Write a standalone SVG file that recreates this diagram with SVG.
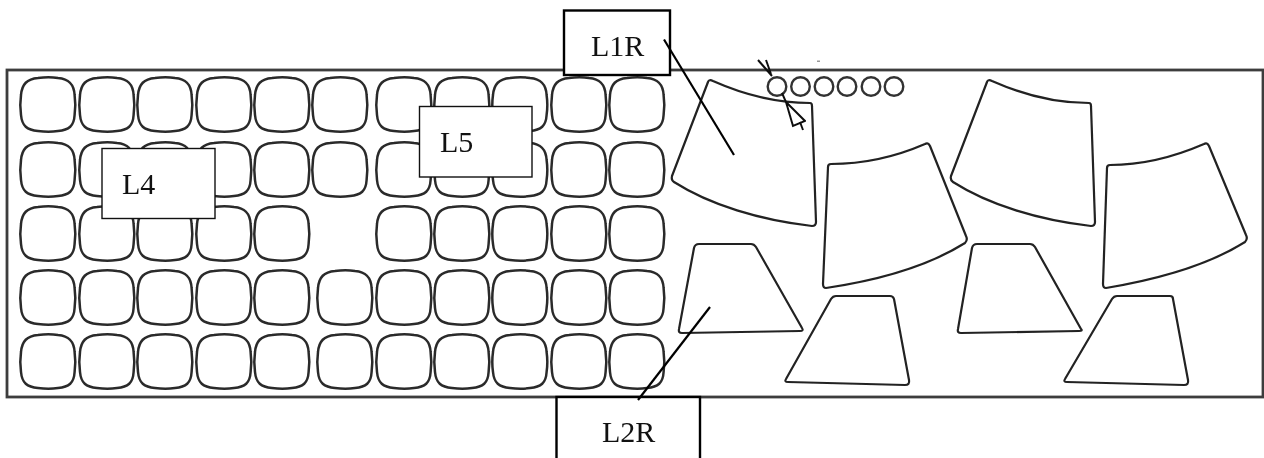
<svg xmlns="http://www.w3.org/2000/svg" width="1264" height="458" viewBox="0 0 1264 458">
<style>
.frame{fill:#fff;stroke:#3c3c3c;stroke-width:2.8}
.sq{fill:#fff;stroke:#2c2c2c;stroke-width:2.5}
.part{fill:#fff;stroke:#222;stroke-width:2.2;stroke-linejoin:round}
.hole{fill:none;stroke:#333;stroke-width:2.4}
.label{fill:#fff;stroke:#111;stroke-width:1.4}
.labelb{fill:#fff;stroke:#000;stroke-width:2.4}
.lead{stroke:#000;stroke-width:2.2;fill:none}
.soft{filter:url(#soft)}
text{font-family:"Liberation Serif","Times New Roman",serif;font-size:30px;fill:#111}
</style>
<defs>
<filter id="soft" x="-2%" y="-2%" width="104%" height="104%"><feGaussianBlur stdDeviation="0.55"/></filter>
<path id="s" class="sq" d="M17,0C24,-1 31,-1 37,0C48,1 53,6 53.600,17C54.600,24 54.600,30 53.600,37C53,48 48,52 37,53C31,54 24,54 17,53C6,52 1,48 0,37C-1,30 -1,24 0,17C1,6 6,1 17,0Z"/>
</defs>
<rect id="frame" class="frame soft" x="7" y="70" width="1256" height="327"/>
<g id="grid" class="soft">
<use href="#s" x="21" y="78"/><use href="#s" x="80" y="78"/><use href="#s" x="138" y="78"/><use href="#s" x="197" y="78"/><use href="#s" x="255" y="78"/><use href="#s" x="313" y="78"/><use href="#s" x="377" y="78"/><use href="#s" x="435" y="78"/><use href="#s" x="493" y="78"/><use href="#s" x="552" y="78"/><use href="#s" x="610" y="78"/>
<use href="#s" x="21" y="143"/><use href="#s" x="80" y="143"/><use href="#s" x="138" y="143"/><use href="#s" x="197" y="143"/><use href="#s" x="255" y="143"/><use href="#s" x="313" y="143"/><use href="#s" x="377" y="143"/><use href="#s" x="435" y="143"/><use href="#s" x="493" y="143"/><use href="#s" x="552" y="143"/><use href="#s" x="610" y="143"/>
<use href="#s" x="21" y="207"/><use href="#s" x="80" y="207"/><use href="#s" x="138" y="207"/><use href="#s" x="197" y="207"/><use href="#s" x="255" y="207"/><use href="#s" x="377" y="207"/><use href="#s" x="435" y="207"/><use href="#s" x="493" y="207"/><use href="#s" x="552" y="207"/><use href="#s" x="610" y="207"/>
<use href="#s" x="21" y="271"/><use href="#s" x="80" y="271"/><use href="#s" x="138" y="271"/><use href="#s" x="197" y="271"/><use href="#s" x="255" y="271"/><use href="#s" x="318" y="271"/><use href="#s" x="377" y="271"/><use href="#s" x="435" y="271"/><use href="#s" x="493" y="271"/><use href="#s" x="552" y="271"/><use href="#s" x="610" y="271"/>
<use href="#s" x="21" y="335"/><use href="#s" x="80" y="335"/><use href="#s" x="138" y="335"/><use href="#s" x="197" y="335"/><use href="#s" x="255" y="335"/><use href="#s" x="318" y="335"/><use href="#s" x="377" y="335"/><use href="#s" x="435" y="335"/><use href="#s" x="493" y="335"/><use href="#s" x="552" y="335"/><use href="#s" x="610" y="335"/>
</g>
<g id="fan-a" class="soft"><path class="part" d="M708,82Q709,79 713,81C740,93 775,103 810,103Q812,103 812,106L816,222Q816,226 812,226C760,220 710,205 674,182Q671,180 672,176Z"/></g>
<g id="fan-b" class="soft"><path class="part" d="M828,167Q828,164 831,164C865,164 895,157 925,144Q928,142 930,146L966,236Q968,240 965,243C930,265 880,280 826,288Q823,288 823,284Z"/></g>
<g id="fan-c" class="soft"><path class="part" d="M987,82Q988,79 992,81C1019,93 1054,103 1089,103Q1091,103 1091,106L1095,222Q1095,226 1091,226C1039,220 989,205 953,182Q950,180 951,176Z"/></g>
<g id="fan-d" class="soft"><path class="part" d="M1107,168Q1107,165 1110,165C1144,165 1174,157 1204,144Q1207,142 1209,146L1246,235Q1248,239 1245,242C1210,264 1160,279 1106,288Q1103,288 1103,284Z"/></g>
<g id="trap-a" class="soft"><path class="part" d="M694,248Q695,244 699,244L751,244Q754,244 756,247L802,328Q804,331 800,331L682,333Q678,333 679,329Z"/></g>
<g id="trap-b" class="soft"><path class="part" d="M831,299Q833,296 836,296L890,296Q893,296 894,299L909,380Q910,385 905,385L788,382Q784,382 786,379Z"/></g>
<g id="trap-c" class="soft"><path class="part" d="M972,248Q973,244 977,244L1030,244Q1033,244 1035,247L1081,329Q1083,331 1079,331L961,333Q957,333 958,329Z"/></g>
<g id="trap-d" class="soft"><path class="part" d="M1112,299Q1114,296 1117,296L1170,296Q1173,296 1173,299L1188,380Q1189,385 1184,385L1067,382Q1063,382 1065,379Z"/></g>
<g id="holes" class="soft">
<circle class="hole" cx="777" cy="86.500" r="9.300"/><circle class="hole" cx="800.500" cy="86.500" r="9.300"/><circle class="hole" cx="824" cy="86.500" r="9.300"/><circle class="hole" cx="847" cy="86.500" r="9.300"/><circle class="hole" cx="871" cy="86.500" r="9.300"/><circle class="hole" cx="894" cy="86.500" r="9.300"/>
</g>
<g id="pointer" class="soft" fill="none" stroke="#111" stroke-width="2">
<path d="M758,60L772,76M766,60L771,74"/>
<path d="M782,93L786,102L793,126L805,121L786,102"/>
<path d="M800,122L803,130"/>
</g>
<rect id="speck" x="817" y="60.500" width="3" height="1.500" fill="#999"/>
<g id="L4"><rect class="label" x="102" y="148.500" width="113" height="70"/><text x="122" y="194">L4</text></g>
<g id="L5"><rect class="label" x="419.500" y="106.500" width="112.500" height="70.500"/><text x="440" y="152">L5</text></g>
<g id="L1R"><rect class="labelb" x="564" y="10.500" width="106" height="64.500"/><text x="591" y="56">L1R</text></g>
<g id="L2R"><rect class="labelb" x="556.500" y="397" width="143.500" height="70"/><text x="602" y="442">L2R</text></g>
<g id="connectors">
<line class="lead" x1="664" y1="39.500" x2="734" y2="155"/>
<line class="lead" x1="710" y1="307" x2="638" y2="400"/>
</g>
</svg>
